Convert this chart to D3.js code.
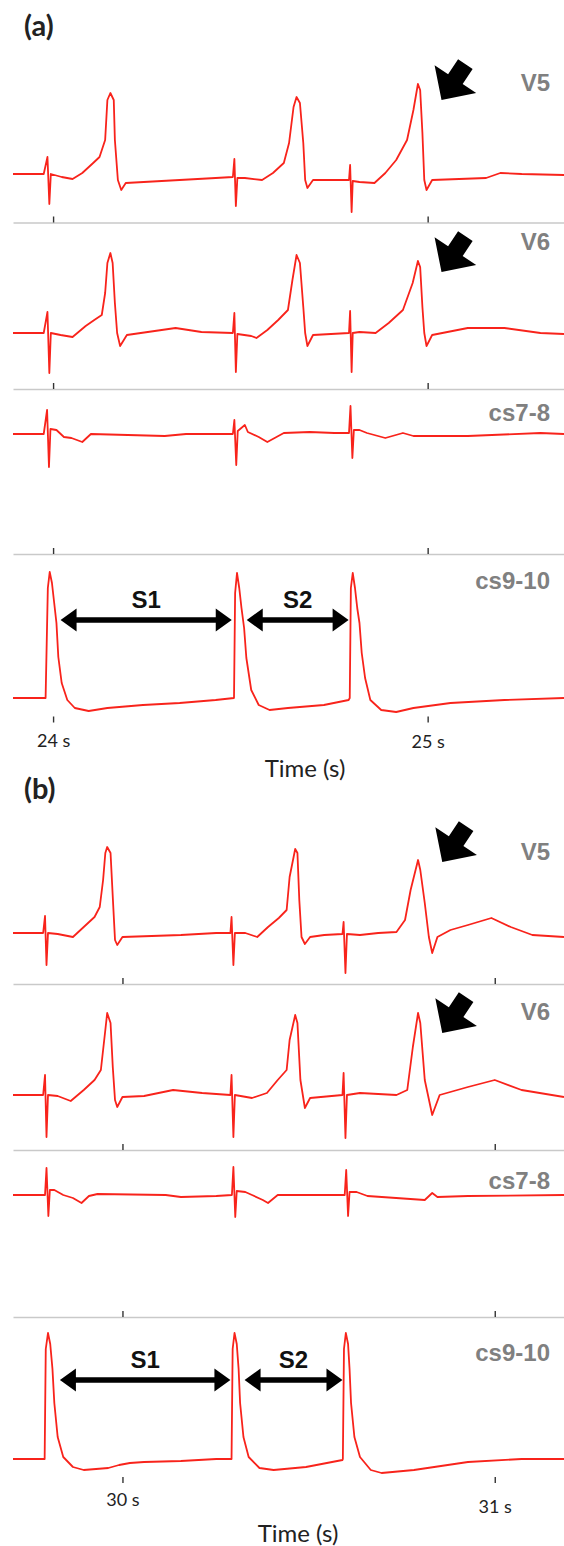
<!DOCTYPE html>
<html>
<head>
<meta charset="utf-8">
<script src="https://cdn.jsdelivr.net/npm/d3@7/dist/d3.min.js"></script>
<style>
    body { margin: 0; background: #fff; }
    svg { display: block; }
</style>
</head>
<body>
<svg id="chart"></svg>
<script>
    // recording windows shown in each panel (s)
    var windowA = [23.893, 25.364];
    var windowB = [29.706, 31.186];
    var ticksA = [24, 25];
    var ticksB = [30, 31];
    var leads = ["V5", "V6", "cs7-8", "cs9-10"];

    // panel (a) traces : [time (s), amplitude (mV)]
    var aV5 = [[23.893,0],[23.975,0],[23.985,0.34],[23.990,-0.60],[23.994,0],[24.023,-0.06],[24.052,-0.10],[24.078,0.02],
        [24.107,0.22],[24.124,0.34],[24.139,0.68],[24.145,1.48],[24.153,1.62],[24.162,1.48],[24.165,0.68],[24.173,-0.12],
        [24.182,-0.32],[24.194,-0.18],[24.434,-0.08],[24.480,-0.06],[24.484,0.30],[24.488,-0.64],[24.492,-0.08],[24.512,-0.08],
        [24.558,-0.12],[24.587,0.02],[24.616,0.22],[24.630,0.62],[24.642,1.34],[24.650,1.54],[24.659,1.42],[24.668,0.62],
        [24.673,-0.12],[24.679,-0.28],[24.694,-0.12],[24.790,-0.12],[24.793,0.18],[24.797,-0.76],[24.800,-0.14],[24.818,-0.16],
        [24.858,-0.18],[24.887,0.02],[24.916,0.28],[24.945,0.68],[24.962,1.28],[24.974,1.80],[24.980,1.68],[24.986,0.82],
        [24.991,-0.12],[24.997,-0.32],[25.012,-0.12],[25.156,-0.08],[25.194,0.02],[25.251,0],[25.364,-0.02]];
    var aV6 = [[23.893,0],[23.975,0],[23.985,0.42],[23.990,-0.80],[23.994,0],[24.020,-0.04],[24.052,-0.08],[24.087,0.14],
        [24.110,0.26],[24.130,0.36],[24.139,0.80],[24.145,1.40],[24.153,1.60],[24.159,1.40],[24.165,0.60],[24.171,0],
        [24.179,-0.26],[24.197,-0.04],[24.327,0.10],[24.396,0.02],[24.480,0],[24.484,0.40],[24.488,-0.78],[24.492,-0.02],
        [24.529,-0.06],[24.543,-0.10],[24.572,0.06],[24.601,0.26],[24.627,0.46],[24.639,1.06],[24.650,1.56],[24.659,1.40],
        [24.668,0.52],[24.673,0],[24.679,-0.26],[24.694,-0.04],[24.790,0],[24.793,0.44],[24.797,-0.78],[24.800,0],
        [24.818,0.02],[24.861,0],[24.896,0.20],[24.934,0.46],[24.960,1.00],[24.974,1.44],[24.980,1.32],[24.986,0.52],
        [24.991,0],[24.997,-0.26],[25.012,-0.04],[25.107,0.10],[25.205,0.10],[25.301,0],[25.364,-0.02]];
    var aCs78 = [[23.893,0],[23.975,0],[23.984,0.48],[23.989,-0.66],[23.993,0.10],[24.009,0.08],[24.029,-0.06],[24.049,-0.08],
        [24.078,-0.16],[24.101,0],[24.298,-0.04],[24.355,0],[24.480,0],[24.484,0.28],[24.489,-0.62],[24.493,0.06],
        [24.512,0.18],[24.520,0.04],[24.549,-0.06],[24.572,-0.16],[24.616,0.02],[24.685,0.04],[24.751,0.02],[24.790,0.02],
        [24.794,0.56],[24.799,-0.48],[24.803,0.08],[24.818,0.08],[24.838,0.02],[24.887,-0.08],[24.934,0.02],[24.962,-0.04],
        [25.107,-0.04],[25.301,0.02],[25.364,0]];
    var aCs910 = [[23.893,0],[23.980,0],[23.986,2.20],[23.991,2.52],[23.997,2.30],[24.003,1.90],[24.009,1.50],[24.014,0.82],
        [24.023,0.30],[24.038,-0.04],[24.058,-0.20],[24.095,-0.26],[24.145,-0.20],[24.240,-0.14],[24.338,-0.10],[24.434,-0.04],
        [24.483,0],[24.486,2.10],[24.491,2.50],[24.497,2.20],[24.503,1.80],[24.510,1.40],[24.516,0.80],[24.529,0.16],
        [24.549,-0.14],[24.578,-0.24],[24.627,-0.20],[24.723,-0.14],[24.789,-0.04],[24.792,0],[24.795,2.20],[24.800,2.50],
        [24.806,2.20],[24.812,1.80],[24.818,1.50],[24.824,0.90],[24.833,0.40],[24.847,-0.04],[24.876,-0.24],[24.916,-0.28],
        [24.962,-0.20],[25.061,-0.10],[25.205,-0.04],[25.364,0]];

    // panel (b) traces
    var bV5 = [[29.706,0],[29.787,0],[29.792,0.34],[29.796,-0.64],[29.800,0],[29.826,-0.02],[29.867,-0.08],[29.896,0.12],
        [29.925,0.32],[29.939,0.52],[29.948,1.06],[29.954,1.60],[29.959,1.72],[29.968,1.60],[29.974,0.72],[29.980,-0.14],
        [29.986,-0.24],[30.000,-0.08],[30.157,-0.04],[30.252,0],[30.290,0],[30.293,0.32],[30.298,-0.64],[30.302,0],
        [30.330,0],[30.362,-0.08],[30.391,0.12],[30.420,0.30],[30.441,0.46],[30.449,1.12],[30.464,1.68],[30.470,1.60],
        [30.475,0.66],[30.481,-0.08],[30.490,-0.22],[30.504,-0.08],[30.542,-0.04],[30.591,-0.02],[30.594,0.22],[30.599,-0.80],
        [30.603,-0.02],[30.638,-0.04],[30.687,0],[30.736,0.02],[30.759,0.26],[30.774,0.86],[30.794,1.46],[30.800,1.26],
        [30.812,0.60],[30.823,-0.08],[30.832,-0.40],[30.846,-0.08],[30.881,0.06],[30.928,0.16],[30.991,0.30],[31.043,0.12],
        [31.101,-0.04],[31.186,-0.08]];
    var bV6 = [[29.706,0],[29.787,0],[29.792,0.40],[29.796,-0.84],[29.800,0],[29.826,-0.02],[29.861,-0.12],[29.896,0.10],
        [29.925,0.30],[29.942,0.50],[29.954,1.30],[29.959,1.64],[29.968,1.44],[29.974,0.56],[29.980,-0.10],[29.986,-0.24],
        [30.000,-0.04],[30.058,-0.02],[30.136,0.10],[30.214,0.04],[30.290,0],[30.293,0.40],[30.298,-0.84],[30.302,0],
        [30.348,-0.06],[30.388,0.04],[30.417,0.30],[30.441,0.50],[30.449,1.10],[30.464,1.60],[30.470,1.44],[30.478,0.30],
        [30.490,-0.26],[30.504,-0.06],[30.591,0],[30.594,0.44],[30.599,-0.86],[30.603,0],[30.638,0.04],[30.736,0],
        [30.765,0.10],[30.780,0.96],[30.794,1.64],[30.800,1.44],[30.812,0.30],[30.832,-0.40],[30.852,0],[30.928,0.16],
        [31.000,0.30],[31.072,0.10],[31.186,-0.04]];
    var bCs78 = [[29.706,0],[29.792,0],[29.796,0.54],[29.801,-0.42],[29.805,0.10],[29.817,0.10],[29.841,0],[29.867,-0.06],
        [29.890,-0.16],[29.910,-0.02],[29.933,0.02],[30.116,0],[30.157,-0.04],[30.252,-0.02],[30.294,0],[30.298,0.56],
        [30.303,-0.44],[30.307,0.08],[30.330,0.06],[30.348,0],[30.377,-0.10],[30.391,-0.16],[30.417,0],[30.597,0],
        [30.601,0.50],[30.606,-0.42],[30.610,0.06],[30.629,0.06],[30.658,-0.02],[30.812,-0.10],[30.832,0.04],[30.846,-0.04],
        [30.928,-0.02],[31.186,0]];
    var bCs910 = [[29.706,0],[29.791,0],[29.794,2.20],[29.800,2.52],[29.806,2.30],[29.812,1.80],[29.817,1.12],[29.826,0.44],
        [29.841,0.04],[29.867,-0.16],[29.896,-0.22],[29.962,-0.18],[29.991,-0.12],[30.020,-0.08],[30.058,-0.06],[30.157,-0.04],
        [30.252,0],[30.293,0],[30.296,2.20],[30.301,2.52],[30.307,2.30],[30.312,1.80],[30.316,1.12],[30.325,0.44],
        [30.339,0.04],[30.368,-0.18],[30.406,-0.22],[30.493,-0.16],[30.591,-0.02],[30.592,0],[30.595,2.20],[30.600,2.52],
        [30.606,2.30],[30.610,1.80],[30.614,1.12],[30.623,0.44],[30.638,0.04],[30.667,-0.22],[30.696,-0.28],[30.783,-0.22],
        [30.928,-0.06],[31.072,0],[31.186,0]];

    // S1 / S2 coupling intervals drawn on cs9-10 (s, mV)
    var intervalsA = [{label: "S1", from: 24.020, to: 24.477, v: 1.56}, {label: "S2", from: 24.517, to: 24.789, v: 1.56}];
    var intervalsB = [{label: "S1", from: 29.832, to: 30.290, v: 1.58}, {label: "S2", from: 30.328, to: 30.591, v: 1.58}];
    // black pointers on V5 / V6 (tip time, tip mV)
    var pointersA = [{lead: 0, t: 25.037, v: 1.48}, {lead: 1, t: 25.037, v: 1.22}];
    var pointersB = [{lead: 0, t: 30.859, v: 1.42}, {lead: 1, t: 30.859, v: 1.24}];

    var W = 564, H = 1546;
    var red = "#f8231b";
    var pxPerMv = 50;

    var panels = [
        {tag: "(a)", tagY: 36, win: windowA, ticks: ticksA, traces: [aV5, aV6, aCs78, aCs910],
            base: [174, 333, 434, 698], labelY: [91, 250, 421, 589], seps: [222.5, 389, 554],
            axisY: 716.5, tickDrop: [0, 1], timeX: 305, timeY: 777,
            intervals: intervalsA, pointers: pointersA},
        {tag: "(b)", tagY: 799, win: windowB, ticks: ticksB, traces: [bV5, bV6, bCs78, bCs910],
            base: [933, 1095, 1195, 1459], labelY: [860, 1020, 1189, 1361], seps: [984, 1150, 1317],
            axisY: 1477, tickDrop: [-2, 5], timeX: 298, timeY: 1542,
            intervals: intervalsB, pointers: pointersB}
    ];

    var svg = d3.select("#chart").attr("width", W).attr("height", H)
        .style("font-family", "Lato, 'Open Sans', sans-serif");

    panels.forEach(function (p) {
        var x = d3.scaleLinear().domain(p.win).range([13, W]);
        var g = svg.append("g");

        var yScales = p.traces.map(function (tr, i) {
            return d3.scaleLinear().domain([0, 1]).range([p.base[i], p.base[i] - pxPerMv]);
        });

        // lane separators with the second ticks
        p.seps.forEach(function (sy) {
            var ax = g.append("g").attr("transform", "translate(0," + sy + ")")
                .call(d3.axisTop(x).tickValues(p.ticks).tickSize(6).tickSizeOuter(0).tickFormat(""));
            ax.select(".domain").attr("stroke", "#c9c9c9").attr("stroke-width", 1.6);
            ax.selectAll(".tick line").attr("stroke", "#333").attr("stroke-width", 1.4);
        });

        // traces
        p.traces.forEach(function (tr, i) {
            var y = yScales[i];
            var line = d3.line().x(function (d) { return x(d[0]); }).y(function (d) { return y(d[1]); });
            g.append("path").datum(tr)
                .attr("d", line)
                .attr("fill", "none")
                .attr("stroke", red)
                .attr("stroke-width", 1.8)
                .attr("stroke-linejoin", "round");

            g.append("text")
                .attr("x", 550).attr("y", p.labelY[i])
                .attr("text-anchor", "end")
                .style("font-family", "'Liberation Sans', Arial, sans-serif")
                .style("font-weight", "bold")
                .style("font-size", "24px")
                .attr("fill", "#808080")
                .text(leads[i]);
        });

        // time axis under cs9-10
        var bottom = g.append("g").attr("transform", "translate(0," + p.axisY + ")")
            .call(d3.axisBottom(x).tickValues(p.ticks).tickSize(6).tickPadding(12)
                .tickFormat(function (d) { return d + " s"; }));
        bottom.select(".domain").remove();
        bottom.selectAll(".tick line").attr("stroke", "#333").attr("stroke-width", 1.4);
        bottom.selectAll(".tick text")
            .attr("dy", function (d, k) { return (0.71 * 18 + p.tickDrop[k]) + "px"; })
            .style("font-family", "Lato, 'Open Sans', sans-serif")
            .style("font-size", "18px")
            .attr("fill", "#222");

        g.append("text")
            .attr("x", p.timeX).attr("y", p.timeY)
            .attr("text-anchor", "middle")
            .style("font-size", "24px")
            .attr("fill", "#222")
            .text("Time (s)");

        g.append("text")
            .attr("x", 24).attr("y", p.tagY)
            .style("font-family", "Lato, 'Open Sans', sans-serif")
            .style("font-weight", "bold")
            .style("font-size", "29px")
            .attr("fill", "#222")
            .text(p.tag);

        // S1 / S2 double arrows
        var yc = yScales[3];
        p.intervals.forEach(function (s) {
            var x1 = x(s.from), x2 = x(s.to), yy = yc(s.v);
            var hl = 16, hw = 11.5, sw = 2.8;
            var pts = [[x1, yy], [x1 + hl, yy - hw], [x1 + hl, yy - sw], [x2 - hl, yy - sw], [x2 - hl, yy - hw], [x2, yy],
                [x2 - hl, yy + hw], [x2 - hl, yy + sw], [x1 + hl, yy + sw], [x1 + hl, yy + hw]];
            g.append("polygon").attr("points", pts.join(" ")).attr("fill", "#000");
            g.append("text")
                .attr("x", (x1 + x2) / 2).attr("y", yy - 12)
                .attr("text-anchor", "middle")
                .style("font-family", "'Liberation Sans', Arial, sans-serif")
                .style("font-weight", "bold")
                .style("font-size", "24px")
                .attr("fill", "#111")
                .text(s.label);
        });

        // block pointers
        var arrowShape = [[0, 0], [-25, -25], [-25, -8.75], [-43, -8.75], [-43, 8.75], [-25, 8.75], [-25, 25]];
        p.pointers.forEach(function (a) {
            g.append("polygon")
                .attr("points", arrowShape.join(" "))
                .attr("transform", "translate(" + x(a.t) + "," + yScales[a.lead](a.v) + ") rotate(123.7)")
                .attr("fill", "#000");
        });
    });
</script>
</body>
</html>
